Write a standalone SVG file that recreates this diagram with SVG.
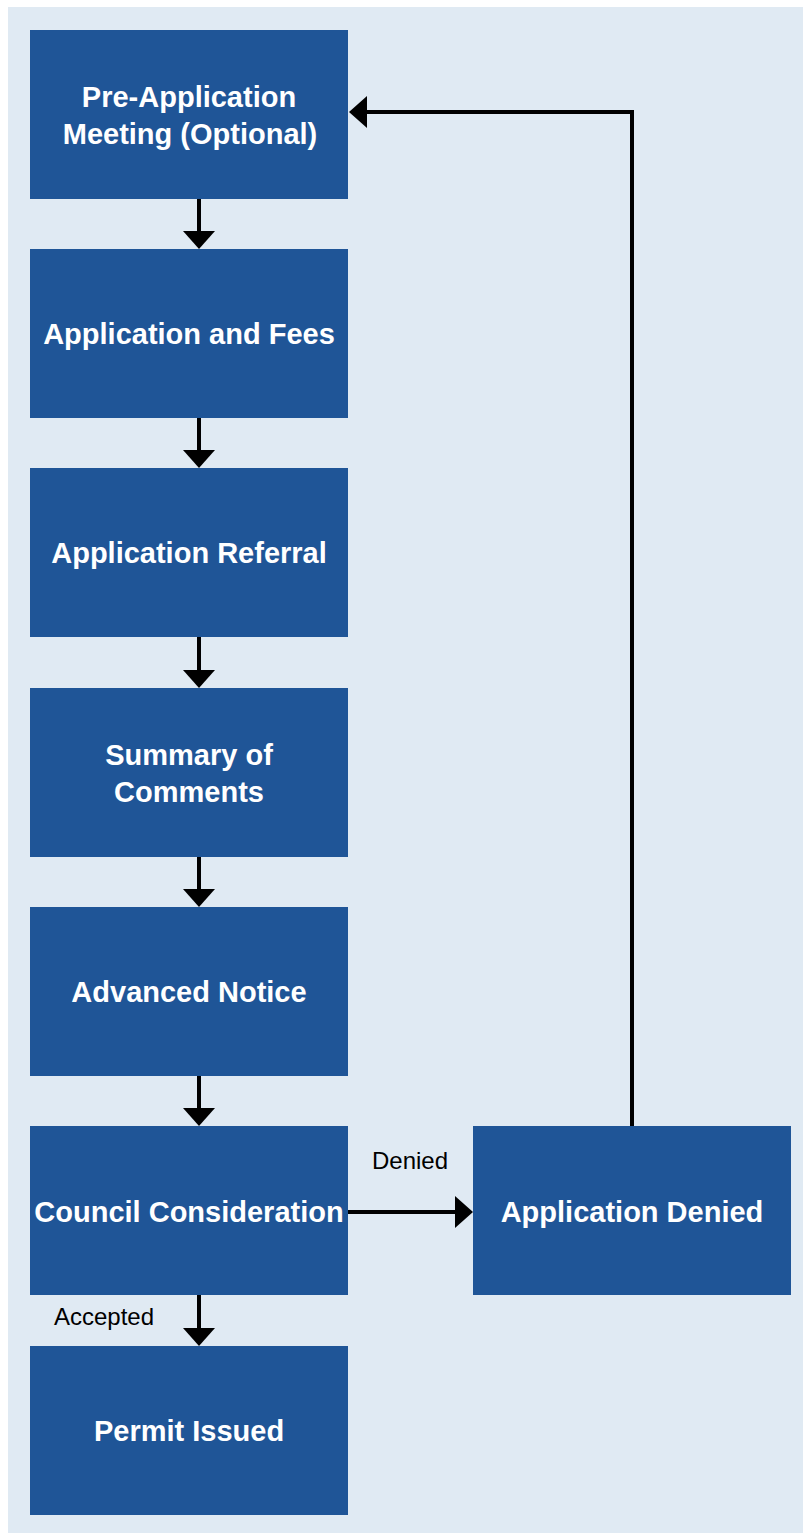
<svg xmlns="http://www.w3.org/2000/svg" width="803" height="1533" viewBox="0 0 803 1533">
<style>
.n{fill:#1f5597}
.t{fill:#fff;font-family:"Liberation Sans",Arial,sans-serif;font-weight:bold;font-size:29px;text-anchor:middle}
.c{stroke:#000;stroke-width:4;fill:none}
.l{fill:#000;font-family:"Liberation Sans",Arial,sans-serif;font-size:24px}
</style>
<defs>
<marker id="ah" markerWidth="4.5" markerHeight="8" refX="0" refY="4" orient="auto" markerUnits="strokeWidth" viewBox="0 0 4.5 8">
<path d="M0,0 L4.5,4 L0,8 z" fill="#000"/>
</marker>
</defs>
<rect x="8" y="7" width="795" height="1526" fill="#e0eaf3"/>
<g id="connectors">
<line class="c" x1="199" y1="199" x2="199" y2="231" marker-end="url(#ah)"/>
<line class="c" x1="199" y1="418" x2="199" y2="450" marker-end="url(#ah)"/>
<line class="c" x1="199" y1="637" x2="199" y2="670" marker-end="url(#ah)"/>
<line class="c" x1="199" y1="857" x2="199" y2="889" marker-end="url(#ah)"/>
<line class="c" x1="199" y1="1076" x2="199" y2="1108" marker-end="url(#ah)"/>
<line class="c" x1="199" y1="1295" x2="199" y2="1328" marker-end="url(#ah)"/>
<line class="c" x1="348" y1="1212" x2="455" y2="1212" marker-end="url(#ah)"/>
<polyline class="c" points="632,1126 632,112 367,112" marker-end="url(#ah)"/>
<text class="l" x="410" y="1169" text-anchor="middle">Denied</text>
<text class="l" x="54" y="1325">Accepted</text>
</g>
<g id="n1"><rect class="n" x="30" y="30" width="318" height="169"/><text class="t" x="189" y="107">Pre-Application</text><text class="t" x="190" y="144">Meeting (Optional)</text></g>
<g id="n2"><rect class="n" x="30" y="249" width="318" height="169"/><text class="t" x="189" y="344">Application and Fees</text></g>
<g id="n3"><rect class="n" x="30" y="468" width="318" height="169"/><text class="t" x="189" y="563">Application Referral</text></g>
<g id="n4"><rect class="n" x="30" y="688" width="318" height="169"/><text class="t" x="189" y="765">Summary of</text><text class="t" x="189" y="802">Comments</text></g>
<g id="n5"><rect class="n" x="30" y="907" width="318" height="169"/><text class="t" x="189" y="1002">Advanced Notice</text></g>
<g id="n6"><rect class="n" x="30" y="1126" width="318" height="169"/><text class="t" x="189" y="1222">Council Consideration</text></g>
<g id="n7"><rect class="n" x="30" y="1346" width="318" height="169"/><text class="t" x="189" y="1441">Permit Issued</text></g>
<g id="n8"><rect class="n" x="473" y="1126" width="318" height="169"/><text class="t" x="632" y="1222">Application Denied</text></g>
</svg>
